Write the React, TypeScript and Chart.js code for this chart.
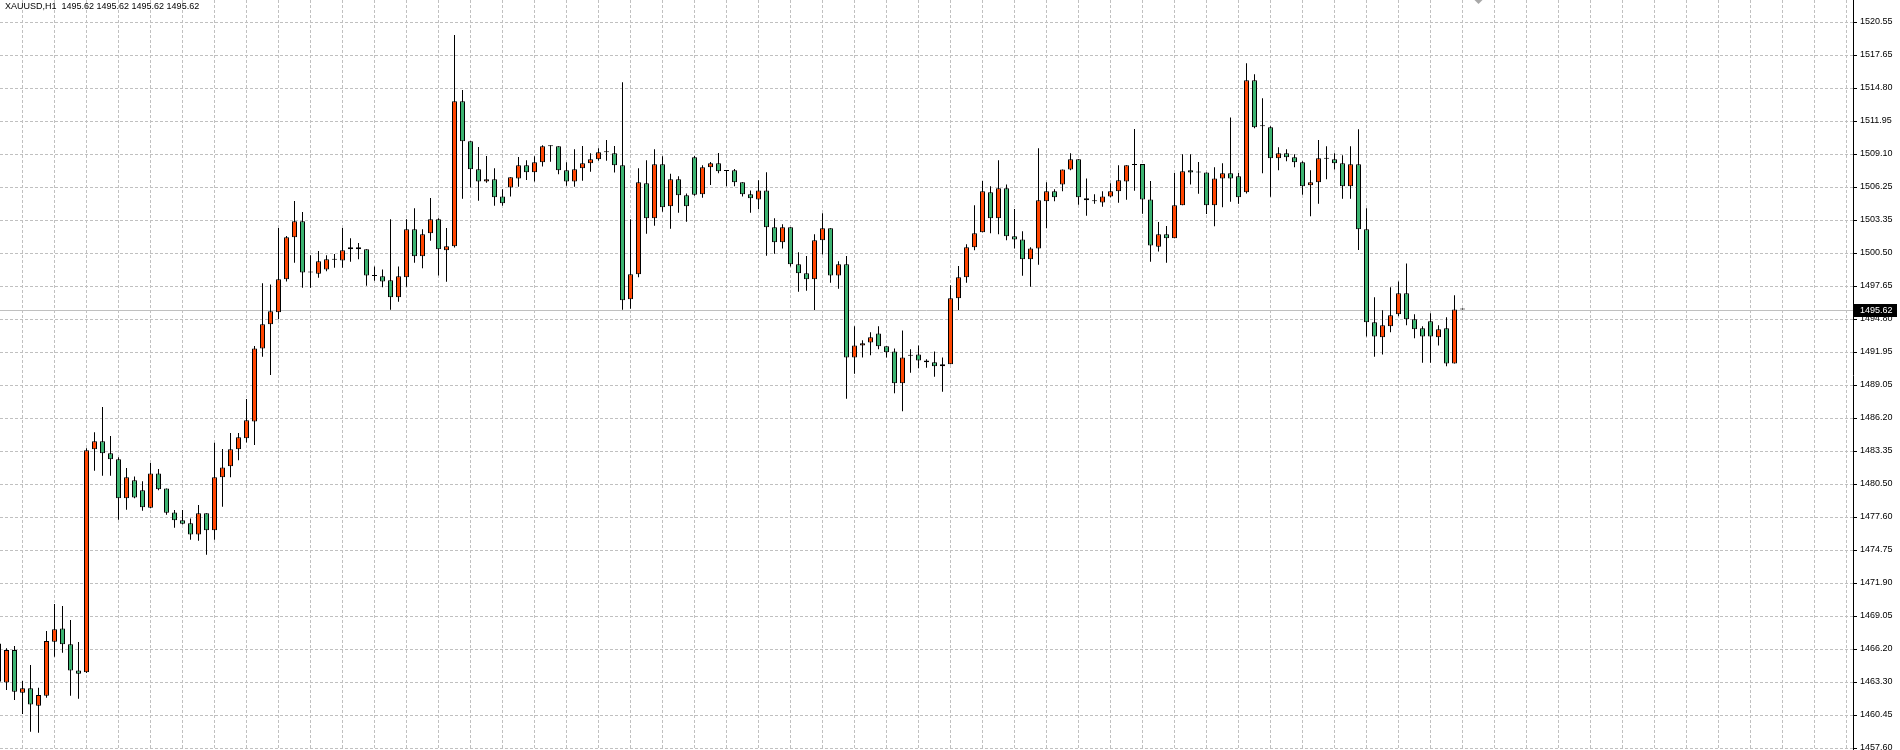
import React, { useEffect, useRef } from "react";
import { Chart, registerables } from "chart.js";

Chart.register(...registerables);

// ---------- data ----------
const SYMBOL = "XAUUSD,H1";
const CURRENT_PRICE = 1495.62;
const FIRST_BAR = -1; // first (partly hidden) bar index

const opens = [
  1466.67,
  1463.29, 1466.10, 1462.40, 1462.77, 1461.27, 1462.14, 1466.82, 1467.97, 1466.59, 1464.33,
  1464.16, 1483.50, 1484.19, 1483.15, 1482.63, 1479.25, 1480.81, 1479.94, 1478.44, 1481.41,
  1480.11, 1478.03, 1477.34, 1477.08, 1476.12, 1477.95, 1476.47, 1481.07, 1482.02, 1483.50,
  1484.45, 1485.92, 1492.23, 1494.34, 1495.38, 1498.24, 1501.88, 1503.27, 1498.82, 1498.73,
  1499.10, 1499.94, 1499.88, 1500.84, 1501.01, 1500.84, 1498.53, 1498.50, 1498.15, 1496.68,
  1498.41, 1502.57, 1500.23, 1502.23, 1503.44, 1500.75, 1501.10, 1513.67, 1510.20, 1507.78,
  1506.71, 1506.91, 1505.43, 1506.21, 1506.99, 1508.12, 1507.52, 1508.38, 1509.77, 1509.77,
  1507.69, 1506.73, 1507.86, 1508.30, 1508.64, 1509.25, 1509.16, 1508.12, 1496.50, 1498.67,
  1506.56, 1503.53, 1508.21, 1504.57, 1506.91, 1505.52, 1508.82, 1505.61, 1507.95, 1508.30,
  1507.63, 1507.69, 1506.65, 1505.61, 1505.17, 1505.95, 1502.75, 1501.45, 1502.75, 1499.54,
  1498.76, 1498.24, 1501.62, 1502.66, 1498.58, 1499.54, 1491.47, 1492.51, 1492.77, 1493.55,
  1492.43, 1491.99, 1489.22, 1491.62, 1491.73, 1491.21, 1491.04, 1490.69, 1490.87, 1496.59,
  1498.41, 1501.01, 1502.31, 1505.78, 1503.53, 1506.13, 1501.97, 1501.70, 1499.97, 1500.92,
  1505.00, 1505.87, 1506.47, 1507.77, 1508.64, 1505.26, 1505.00, 1504.91, 1505.43, 1505.87,
  1506.73, 1508.16, 1508.24, 1505.17, 1501.07, 1502.14, 1501.79, 1504.65, 1507.69, 1507.51,
  1507.51, 1504.65, 1506.99, 1507.43, 1507.17, 1505.78, 1515.49, 1511.50, 1511.42, 1508.73,
  1509.16, 1508.82, 1508.38, 1506.39, 1506.65, 1508.70, 1508.64, 1508.30, 1506.30, 1508.21,
  1502.57, 1494.51, 1493.21, 1494.16, 1495.20, 1497.02, 1494.77, 1493.99, 1494.60, 1493.21,
  1493.99, 1490.95, 1495.62,
];

const highs = [
  1467.11,
  1466.24, 1466.44, 1463.41, 1464.79, 1462.83, 1467.74, 1470.08, 1469.91, 1468.70, 1466.79,
  1483.58, 1484.97, 1487.17, 1484.65, 1482.80, 1481.88, 1481.15, 1480.72, 1482.31, 1481.79,
  1480.11, 1478.23, 1478.23, 1477.51, 1478.67, 1477.95, 1484.07, 1483.52, 1484.91, 1484.91,
  1487.86, 1492.46, 1497.89, 1497.80, 1502.69, 1501.99, 1505.03, 1504.08, 1500.32, 1500.69,
  1500.32, 1500.43, 1502.69, 1501.79, 1501.39, 1500.84, 1499.36, 1499.10, 1503.44, 1499.36,
  1503.44, 1504.39, 1502.57, 1505.29, 1503.53, 1502.69, 1519.42, 1514.65, 1510.20, 1509.71,
  1508.93, 1507.86, 1506.04, 1507.08, 1508.84, 1508.56, 1508.90, 1509.86, 1509.86, 1509.77,
  1508.38, 1509.51, 1509.80, 1509.16, 1509.60, 1510.32, 1509.80, 1515.32, 1503.44, 1507.86,
  1508.56, 1509.51, 1508.90, 1507.40, 1507.17, 1505.69, 1508.93, 1508.12, 1508.41, 1509.19,
  1507.63, 1507.80, 1506.65, 1505.95, 1506.82, 1507.52, 1503.53, 1503.01, 1502.75, 1500.58,
  1500.26, 1502.14, 1503.96, 1502.66, 1499.80, 1500.26, 1494.16, 1492.95, 1493.64, 1494.16,
  1492.43, 1492.25, 1493.81, 1492.17, 1492.51, 1491.30, 1491.99, 1491.47, 1497.72, 1499.39,
  1501.27, 1504.65, 1506.76, 1506.30, 1508.56, 1506.47, 1504.34, 1502.40, 1501.01, 1509.60,
  1506.65, 1506.04, 1507.77, 1509.16, 1508.64, 1506.99, 1505.61, 1505.87, 1506.56, 1508.12,
  1508.12, 1511.27, 1508.24, 1506.76, 1503.21, 1502.86, 1507.46, 1509.08, 1509.08, 1508.41,
  1507.51, 1507.95, 1508.30, 1512.28, 1507.46, 1516.97, 1516.01, 1513.93, 1511.50, 1509.68,
  1509.51, 1509.08, 1508.47, 1507.69, 1510.32, 1509.77, 1509.16, 1508.99, 1509.77, 1511.26,
  1504.39, 1496.68, 1495.55, 1497.54, 1498.06, 1499.62, 1495.20, 1494.16, 1495.29, 1494.25,
  1494.94, 1496.85, 1495.62,
];

const lows = [
  1463.20,
  1462.63, 1461.76, 1460.55, 1459.01, 1458.93, 1461.96, 1465.52, 1465.86, 1462.14, 1461.88,
  1464.10, 1481.65, 1481.21, 1481.21, 1477.40, 1478.26, 1479.25, 1478.18, 1478.38, 1479.94,
  1477.83, 1476.70, 1476.99, 1475.66, 1475.58, 1474.36, 1475.66, 1478.52, 1481.07, 1482.54,
  1484.10, 1483.87, 1491.53, 1489.94, 1494.77, 1498.06, 1499.68, 1497.51, 1497.51, 1498.38,
  1498.93, 1499.25, 1499.25, 1499.77, 1499.97, 1497.69, 1498.12, 1497.54, 1495.61, 1496.30,
  1497.60, 1499.68, 1499.19, 1501.59, 1498.58, 1498.03, 1501.00, 1505.23, 1506.19, 1505.06,
  1506.62, 1504.62, 1504.62, 1505.41, 1506.27, 1506.85, 1506.71, 1508.01, 1508.44, 1507.34,
  1506.36, 1506.27, 1506.79, 1507.57, 1508.53, 1508.53, 1507.49, 1495.61, 1495.69, 1498.41,
  1502.20, 1502.89, 1504.10, 1502.63, 1504.02, 1503.24, 1505.49, 1505.32, 1506.42, 1507.43,
  1506.30, 1506.30, 1505.43, 1504.02, 1504.31, 1500.29, 1500.46, 1500.90, 1499.34, 1497.17,
  1497.25, 1495.58, 1500.38, 1497.95, 1497.43, 1487.89, 1490.06, 1491.47, 1491.65, 1492.17,
  1491.47, 1488.35, 1486.79, 1490.14, 1490.52, 1490.58, 1489.80, 1488.50, 1490.87, 1495.58,
  1497.95, 1500.75, 1502.31, 1502.23, 1502.14, 1501.62, 1500.92, 1498.55, 1497.60, 1499.51,
  1502.66, 1505.00, 1505.87, 1507.69, 1504.71, 1503.76, 1504.80, 1504.54, 1505.35, 1504.88,
  1505.14, 1505.92, 1503.93, 1499.77, 1500.64, 1499.68, 1501.79, 1504.65, 1506.45, 1505.66,
  1503.90, 1502.83, 1504.48, 1504.97, 1504.80, 1505.69, 1511.33, 1507.43, 1505.40, 1507.69,
  1508.47, 1507.95, 1505.58, 1503.70, 1504.80, 1506.91, 1507.77, 1505.23, 1505.23, 1500.79,
  1493.28, 1491.53, 1491.73, 1493.64, 1495.03, 1494.25, 1493.12, 1491.01, 1491.01, 1492.51,
  1490.69, 1490.95, 1495.62,
];

const closes = [
  1463.35,
  1466.10, 1462.48, 1462.77, 1461.38, 1462.19, 1466.88, 1467.89, 1466.59, 1464.33, 1464.04,
  1483.41, 1484.19, 1483.15, 1482.63, 1479.25, 1481.07, 1479.33, 1478.47, 1481.41, 1480.03,
  1478.00, 1477.34, 1477.05, 1476.12, 1477.95, 1476.47, 1481.07, 1481.93, 1483.50, 1484.54,
  1486.01, 1492.25, 1494.34, 1495.46, 1498.24, 1501.88, 1503.27, 1498.84, 1498.82, 1499.80,
  1499.97, 1499.94, 1500.75, 1501.01, 1500.84, 1498.58, 1498.53, 1498.06, 1496.68, 1498.50,
  1502.57, 1500.23, 1502.14, 1503.44, 1500.84, 1501.10, 1513.67, 1510.20, 1507.78, 1506.73,
  1506.91, 1505.35, 1504.83, 1507.08, 1508.12, 1507.52, 1508.38, 1509.77, 1509.77, 1507.69,
  1506.73, 1507.78, 1508.30, 1508.64, 1509.25, 1509.25, 1508.12, 1496.42, 1498.67, 1506.65,
  1503.53, 1508.21, 1504.48, 1506.91, 1505.52, 1504.57, 1505.58, 1507.95, 1508.30, 1507.60,
  1507.63, 1506.65, 1505.61, 1505.26, 1505.95, 1502.75, 1501.45, 1502.75, 1499.54, 1498.76,
  1498.24, 1501.62, 1502.66, 1498.58, 1499.54, 1491.47, 1492.51, 1492.69, 1493.21, 1492.43,
  1491.91, 1489.22, 1491.47, 1491.62, 1491.21, 1491.04, 1490.69, 1490.87, 1496.59, 1498.41,
  1501.01, 1502.23, 1505.87, 1503.53, 1506.13, 1501.97, 1501.70, 1499.97, 1500.92, 1505.09,
  1505.87, 1505.35, 1507.77, 1508.64, 1505.35, 1505.09, 1505.00, 1505.43, 1505.87, 1506.82,
  1508.12, 1508.16, 1505.17, 1501.16, 1502.14, 1501.79, 1504.65, 1507.60, 1507.51, 1507.51,
  1504.65, 1506.99, 1507.43, 1506.99, 1505.35, 1515.49, 1511.42, 1511.50, 1508.73, 1509.16,
  1508.82, 1508.38, 1506.30, 1506.65, 1508.73, 1508.70, 1508.30, 1506.30, 1508.21, 1502.57,
  1494.51, 1493.29, 1494.25, 1495.12, 1497.02, 1494.77, 1493.90, 1493.29, 1493.29, 1493.90,
  1490.95, 1495.62, 1495.62,
];

const yTickLabels = [
  "1520.55", "1517.65", "1514.80", "1511.95", "1509.10", "1506.25", "1503.35", "1500.50",
  "1497.65", "1494.80", "1491.95", "1489.05", "1486.20", "1483.35", "1480.50", "1477.60",
  "1474.75", "1471.90", "1469.05", "1466.20", "1463.30", "1460.45", "1457.60",
];

// axis ranges (bar index / price)
const X_MIN = -0.8125;
const X_MAX = 230.8125;
const Y_MAX = 1522.4576;
const Y_MIN = 1457.4266;
const GRID_FIRST_BAR = 2;
const GRID_EVERY = 4;
const SHIFT_MARK_BAR = 184;

// ---------- styles ----------
const BULL = "#ff4500";
const BEAR = "#3cb371";
const GRID = "#c0c0c0";
const FONT = "'Liberation Sans', Arial, sans-serif";

const overlayPlugin = {
  id: "mt4Overlay",
  beforeDatasetsDraw(chart: any) {
    const { ctx, chartArea, scales } = chart;
    const py = Math.round(scales.y.getPixelForValue(CURRENT_PRICE)) + 0.5;
    ctx.save();
    ctx.strokeStyle = GRID;
    ctx.lineWidth = 1;
    ctx.beginPath();
    ctx.moveTo(chartArea.left, py);
    ctx.lineTo(chartArea.right, py);
    ctx.stroke();
    ctx.restore();
  },
  afterDraw(chart: any) {
    const { ctx, chartArea, scales } = chart;
    const py = Math.round(scales.y.getPixelForValue(CURRENT_PRICE));
    ctx.save();
    ctx.fillStyle = "#000";
    ctx.fillRect(chartArea.right + 1, py - 6, 43, 13);
    ctx.fillStyle = "#fff";
    ctx.font = `9px ${FONT}`;
    ctx.textBaseline = "middle";
    ctx.textAlign = "left";
    ctx.fillText(CURRENT_PRICE.toFixed(2), chartArea.right + 7, py + 0.5);
    const mx = scales.x.getPixelForValue(SHIFT_MARK_BAR);
    ctx.fillStyle = "#a8a8a8";
    ctx.beginPath();
    ctx.moveTo(mx - 4, 0);
    ctx.lineTo(mx + 4, 0);
    ctx.lineTo(mx, 4);
    ctx.closePath();
    ctx.fill();
    ctx.restore();
  },
};

export default function App() {
  const canvasRef = useRef<HTMLCanvasElement | null>(null);

  useEffect(() => {
    const canvas = canvasRef.current;
    if (!canvas) return;

    const bars = opens.map((_, k) => k + FIRST_BAR);
    const wickData = bars.map((b, k) => ({ x: b, y: [lows[k], highs[k]] }));
    const bodyData = bars.map((b, k) => ({ x: b, y: [opens[k], closes[k]] }));
    const bodyColors = opens.map((o, k) =>
      closes[k] > o ? BULL : closes[k] < o ? BEAR : "#000"
    );

    const top = parseFloat(yTickLabels[0]);
    const bottom = parseFloat(yTickLabels[yTickLabels.length - 1]);
    const step = (top - bottom) / (yTickLabels.length - 1);

    const chart = new Chart(canvas, {
      type: "bar",
      data: {
        datasets: [
          {
            label: "wick",
            data: wickData as any,
            backgroundColor: "#000",
            borderWidth: 0,
            barThickness: 1,
            minBarLength: 1,
            grouped: false,
            inflateAmount: 0,
            order: 2,
          } as any,
          {
            label: "body",
            data: bodyData as any,
            backgroundColor: bodyColors,
            borderColor: "#000",
            borderWidth: 1,
            borderSkipped: false,
            barThickness: 5,
            minBarLength: 1,
            grouped: false,
            inflateAmount: 0,
            order: 1,
          } as any,
        ],
      },
      options: {
        animation: false,
        responsive: false,
        devicePixelRatio: 1,
        events: [],
        layout: { padding: 0 },
        plugins: {
          legend: { display: false },
          tooltip: { enabled: false },
          title: { display: false },
        },
        scales: {
          x: {
            type: "linear",
            min: X_MIN,
            max: X_MAX,
            offset: false,
            position: "bottom",
            ticks: { display: false },
            grid: {
              color: GRID,
              lineWidth: 1,
              drawTicks: false,
              offset: false,
            },
            border: { display: false, dash: [3, 2] },
            afterBuildTicks: (scale: any) => {
              const t: any[] = [];
              for (let v = GRID_FIRST_BAR; v <= X_MAX; v += GRID_EVERY) t.push({ value: v });
              scale.ticks = t;
            },
            afterFit: (scale: any) => {
              scale.height = 0;
              scale.paddingLeft = 0;
              scale.paddingRight = 0;
              scale.paddingTop = 0;
              scale.paddingBottom = 0;
            },
          } as any,
          y: {
            type: "linear",
            position: "right",
            min: Y_MIN,
            max: Y_MAX,
            beginAtZero: false,
            ticks: {
              autoSkip: false,
              color: "#000",
              padding: 3,
              font: { family: FONT, size: 9 },
              callback: (_v: any, i: number) => yTickLabels[i],
            },
            grid: {
              color: GRID,
              lineWidth: 1,
              drawTicks: true,
              tickLength: 4,
              tickColor: "#000",
              tickWidth: 1,
            },
            border: { display: true, color: "#000", width: 1, dash: [3, 2] },
            afterBuildTicks: (scale: any) => {
              scale.ticks = yTickLabels.map((_, k) => ({ value: top - k * step }));
            },
            afterFit: (scale: any) => {
              scale.width = 47;
              scale.paddingTop = 0;
              scale.paddingBottom = 0;
              scale.paddingLeft = 0;
              scale.paddingRight = 0;
            },
          } as any,
        },
      } as any,
      plugins: [overlayPlugin],
    });

    return () => chart.destroy();
  }, []);

  return (
    <div
      style={{
        position: "fixed",
        left: 0,
        top: 0,
        width: 1900,
        height: 750,
        background: "#fff",
        overflow: "hidden",
      }}
    >
      <canvas ref={canvasRef} width={1900} height={750} style={{ display: "block" }} />
      <div
        style={{
          position: "absolute",
          left: 5,
          top: 0,
          font: `9px ${FONT}`,
          lineHeight: "12px",
          color: "#000",
          whiteSpace: "pre",
        }}
      >
        {`${SYMBOL}  ${CURRENT_PRICE.toFixed(2)} ${CURRENT_PRICE.toFixed(2)} ${CURRENT_PRICE.toFixed(2)} ${CURRENT_PRICE.toFixed(2)}`}
      </div>
    </div>
  );
}
